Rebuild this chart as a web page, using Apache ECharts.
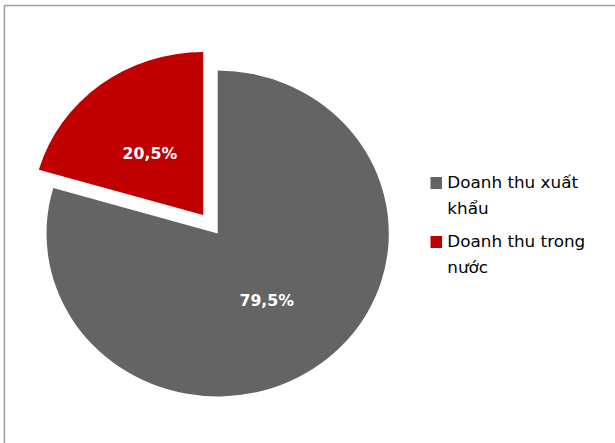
<!DOCTYPE html>
<html>
<head>
<meta charset="utf-8">
<script src="https://cdn.jsdelivr.net/npm/echarts@6/dist/echarts.min.js"></script>
<style>
  html, body { margin: 0; padding: 0; background: #fff; overflow: hidden; }
  /* hinh goc bi keo gian ngang ~5% */
  #main { width: 586px; height: 443px; transform: scaleX(1.05); transform-origin: 0 0; }
</style>
</head>
<body>
<div id="main"></div>
<script>
// du lieu bieu do
var categories = ['Doanh thu xuất khẩu', 'Doanh thu trong nước'];
var values = [79.5, 20.5];
var colors = ['#646464', '#c00000'];
var exploded = [false, true];
var labelOffsets = [[-4, 0], [0, 7]];

var chart = echarts.init(document.getElementById('main'), null, { renderer: 'svg' });

var pieData = categories.map(function (name, i) {
  return {
    name: name,
    value: values[i],
    selected: exploded[i],
    itemStyle: { color: colors[i] },
    label: { offset: labelOffsets[i] },
    select: {
      itemStyle: { color: colors[i], borderWidth: 0 },
      label: { offset: labelOffsets[i] }
    }
  };
});

chart.setOption({
  animation: false,
  graphic: [{
    type: 'rect',
    shape: { x: 4.2, y: 5.5, width: 700, height: 600 },
    style: { fill: 'none', stroke: '#a0a0a0', lineWidth: 1.5 },
    silent: true
  }],
  legend: {
    orient: 'vertical',
    left: 405,
    top: 139,
    itemWidth: 11,
    itemHeight: 12,
    itemGap: -19,
    icon: 'rect',
    selectedMode: false,
    data: categories,
    formatter: function (name) {
      // dong trong o tren de o mau thang hang voi dong dau
      return '\n' + name.replace(/ (\S+)$/, '\n$1');
    },
    textStyle: {
      fontFamily: 'DejaVu Sans',
      fontSize: 16,
      color: '#000',
      lineHeight: 26
    }
  },
  series: [{
    type: 'pie',
    center: [207.3, 233.5],
    radius: 163,
    startAngle: 90,
    clockwise: true,
    selectedMode: 'single',
    selectedOffset: 23,
    data: pieData,
    emphasis: { disabled: true },
    label: {
      position: 'inside',
      color: '#fff',
      fontFamily: 'DejaVu Sans',
      fontWeight: 'bold',
      fontSize: 15,
      formatter: function (p) {
        return p.value.toFixed(1).replace('.', ',') + '%';
      }
    },
    labelLine: { show: false }
  }]
});
</script>
</body>
</html>
